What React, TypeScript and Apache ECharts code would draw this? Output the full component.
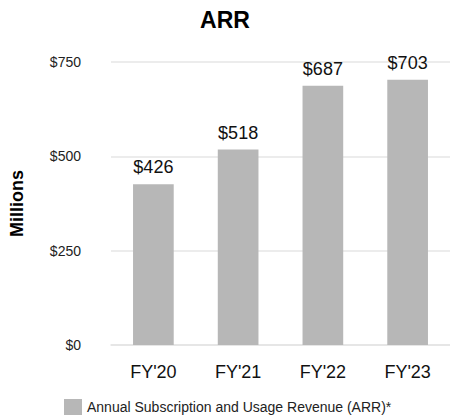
import React, { useEffect, useRef } from "react";
import * as echarts from "echarts";

const categories = ["FY'20", "FY'21", "FY'22", "FY'23"];
const arrValues = [426, 518, 687, 703];
const yTicks = [0, 250, 500, 750];
const seriesName = "Annual Subscription and Usage Revenue (ARR)*";

export default function App() {
  const ref = useRef<HTMLDivElement>(null);
  useEffect(() => {
    document.body.style.margin = "0";
    if (!ref.current) return;
    const chart = echarts.init(ref.current, undefined, { renderer: "svg" });
    const font = "'Liberation Sans', Arial, sans-serif";
    chart.setOption({
      animation: false,
      textStyle: { fontFamily: font },
      title: {
        text: "ARR",
        left: "center",
        top: 3,
        textStyle: { fontSize: 23, fontWeight: "bold", color: "#000", fontFamily: font },
      },
      legend: {
        data: [seriesName],
        left: 64,
        top: 399,
        padding: 0,
        itemWidth: 18,
        itemHeight: 16,
        itemGap: 8,
        icon: "rect",
        textStyle: { fontSize: 14, color: "#222", fontFamily: font },
      },
      grid: { left: 104, right: -10, top: 62, bottom: 73, containLabel: false },
      xAxis: {
        type: "category",
        data: categories,
        axisLine: { show: true, lineStyle: { color: "#e3e3e3", width: 1.5 } },
        axisTick: { show: false },
        axisLabel: { fontSize: 18, color: "#111", margin: 18, fontFamily: font },
      },
      yAxis: {
        type: "value",
        min: yTicks[0],
        max: yTicks[yTicks.length - 1],
        interval: 250,
        name: "Millions",
        nameLocation: "middle",
        nameRotate: 90,
        nameGap: 85,
        nameTextStyle: { fontSize: 18, fontWeight: "bold", color: "#000", fontFamily: font },
        axisLine: { show: false },
        axisTick: { show: false },
        splitLine: { lineStyle: { color: "#e6e6e6", width: 1.5 } },
        axisLabel: {
          fontSize: 14,
          color: "#222",
          margin: 30,
          fontFamily: font,
          formatter: (v: number) => "$" + v,
        },
      },
      series: [
        {
          name: seriesName,
          type: "bar",
          data: arrValues,
          barWidth: "48%",
          itemStyle: { color: "#b7b7b7" },
          label: {
            show: true,
            position: "top",
            distance: 8,
            fontSize: 18,
            color: "#111",
            fontFamily: font,
            formatter: (p: any) => "$" + p.value,
          },
        },
      ],
    });
    return () => chart.dispose();
  }, []);
  return (
    <div style={{ width: 450, height: 418, overflow: "hidden" }}>
      <div ref={ref} style={{ width: 450, height: 418 }} />
    </div>
  );
}
